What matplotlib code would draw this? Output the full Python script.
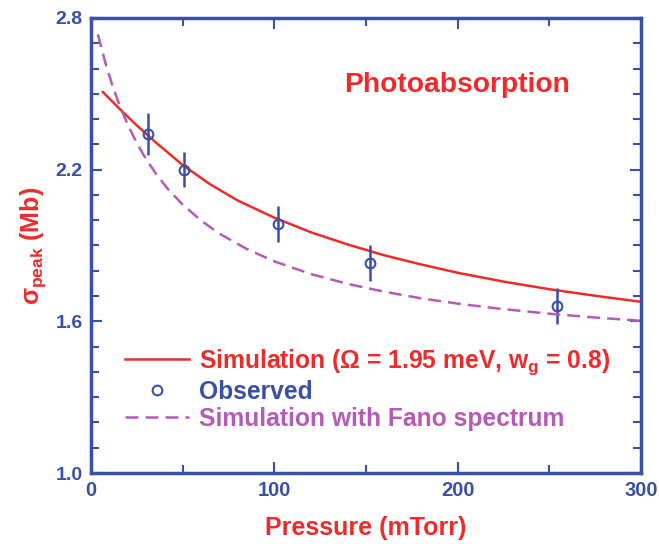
import matplotlib.pyplot as plt
import numpy as np
from matplotlib.ticker import MultipleLocator

plt.rcParams['font.family'] = 'Liberation Sans'
plt.rcParams['font.weight'] = 'bold'
plt.rcParams['mathtext.fontset'] = 'custom'
plt.rcParams['mathtext.rm'] = 'Liberation Sans:bold'
plt.rcParams['mathtext.it'] = 'Liberation Sans:bold'
plt.rcParams['mathtext.bf'] = 'Liberation Sans:bold'

blue = '#3a4fa6'
red = '#f02a2a'
purple = '#b55ab5'

# simulated curve
sim_p = [6.5, 15, 25, 35, 50, 65, 80, 100, 120, 140, 160, 180, 200, 225, 250, 275, 300]
sim_s = [2.507, 2.445, 2.375, 2.31, 2.218, 2.142, 2.078, 2.010, 1.952, 1.904, 1.861, 1.825, 1.792, 1.757, 1.727, 1.701, 1.677]

# simulation with Fano spectrum
fano_p = [3.8, 8, 12, 16, 20, 25, 30, 36, 42, 50, 60, 70, 85, 100, 120, 140, 160, 180, 200, 225, 250, 275, 300]
fano_s = [2.735, 2.619, 2.526, 2.447, 2.379, 2.305, 2.242, 2.178, 2.123, 2.062, 1.999, 1.947, 1.886, 1.837,
          1.787, 1.748, 1.717, 1.691, 1.670, 1.648, 1.630, 1.615, 1.602]

# observed
obs_p = [31, 50.5, 102, 152, 254]
obs_s = [2.341, 2.20, 1.985, 1.831, 1.661]
obs_err = [0.083, 0.07, 0.07, 0.07, 0.07]

fig = plt.figure(figsize=(6.59, 5.44), dpi=100)
ax = fig.add_axes([0.138, 0.1305, 0.835, 0.8365])

ax.plot(sim_p, sim_s, color=red, lw=1.8, label='Simulation (Ω = 1.95 meV, w$_\\mathregular{g}$ = 0.8)')
ax.errorbar(obs_p, obs_s, yerr=obs_err, fmt='none', ecolor=blue, elinewidth=1.8, capsize=0)
ax.plot(obs_p, obs_s, 'o', mfc='none', mec=blue, mew=1.5, ms=7, label='Observed')
ax.plot(fano_p, fano_s, color=purple, lw=1.8, ls=(0, (5.2, 2.8)), label='Simulation with Fano spectrum')

ax.set_xlim(0, 300)
ax.set_ylim(1.0, 2.8)
ax.set_xticks([0, 100, 200, 300])
ax.set_yticks([1.0, 1.6, 2.2, 2.8])
ax.set_yticklabels(['1.0', '1.6', '2.2', '2.8'])
ax.xaxis.set_minor_locator(MultipleLocator(50))
ax.yaxis.set_minor_locator(MultipleLocator(0.1))
ax.tick_params(which='both', direction='in', top=True, right=True, color=blue, width=1.5,
               labelcolor=blue, labelsize=14, pad=6)
ax.tick_params(axis='x', labelsize=14.5)
ax.tick_params(which='major', length=8)
ax.tick_params(which='minor', length=6)
for s in ax.spines.values():
    s.set_color(blue)
    s.set_linewidth(2.5)

ax.set_xlabel('Pressure (mTorr)', color=red, fontsize=18, fontweight='bold', labelpad=11)
ax.set_ylabel('$\\sigma_{\\mathregular{peak}}$ (Mb)', color=red, fontsize=18, fontweight='bold', labelpad=5)

ax.text(0.665, 0.853, 'Photoabsorption', transform=ax.transAxes, color=red, fontsize=20.3,
        ha='center', va='center')

leg = ax.legend(loc='lower left', bbox_to_anchor=(0.04, 0.066), frameon=False, fontsize=17.7,
                handlelength=2.6, handletextpad=0.4, labelspacing=0.12, borderpad=0)
for t, c in zip(leg.get_texts(), [red, blue, purple]):
    t.set_color(c)

fig.savefig('out.png', dpi=100)
